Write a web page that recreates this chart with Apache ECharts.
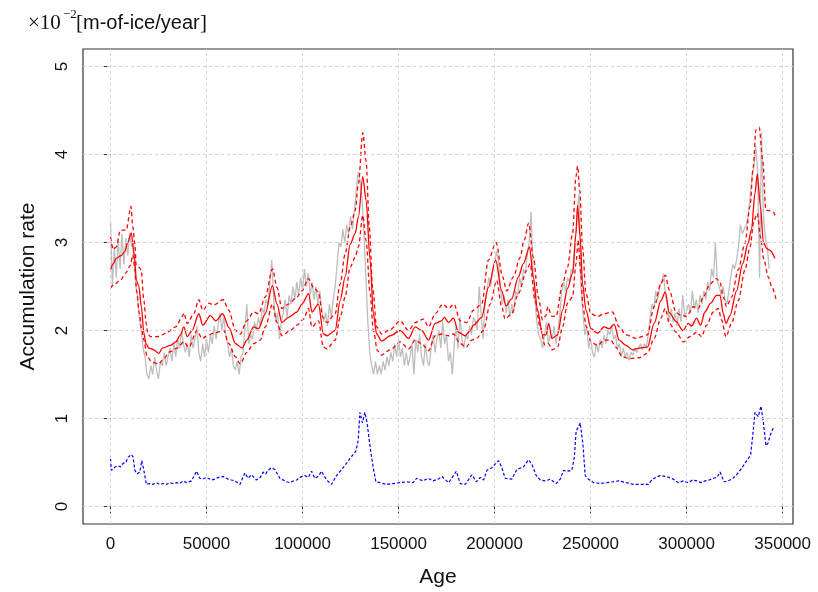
<!DOCTYPE html>
<html><head><meta charset="utf-8">
<script src="https://cdn.jsdelivr.net/npm/echarts@6/dist/echarts.min.js"></script>
<style>html,body{margin:0;padding:0;background:#fff}#c{width:818px;height:592px}</style>
</head><body><div id="c"></div>
<script>
// ---- data ----
const xTicks = [0, 50000, 100000, 150000, 200000, 250000, 300000, 350000];
const yTicks = [0, 1, 2, 3, 4, 5];
const xTitle = 'Age';
const yTitle = 'Accumulation rate';
const unitParts = ['×10', '−2', '[', 'm-of-ice/year', ']'];

// observed accumulation rate (grey), one value per 1000 years from age 0
const grayStartAge = 0, grayStepAge = 1000;
const grayRate = [
 3.25,2.5,2.95,2.6,3.05,2.7,3.1,2.75,3.05,2.85,
 3.1,2.95,3.0,2.55,2.4,2.15,2.0,1.8,1.7,1.5,
 1.45,1.6,1.5,1.7,1.55,1.45,1.65,1.6,1.75,1.6,
 1.7,1.8,1.65,1.85,1.7,1.9,1.8,2.0,1.85,1.75,
 1.85,1.7,1.95,1.8,1.9,2.05,1.75,1.65,1.85,1.7,
 1.9,1.75,1.95,1.85,2.05,1.9,2.05,2.2,2.0,2.15,
 1.95,1.85,1.7,1.8,1.6,1.55,1.65,1.5,1.7,1.75,
 1.75,2.3,1.85,1.95,1.9,2.1,2.0,2.15,2.05,2.25,
 2.2,2.35,2.3,2.55,2.8,2.35,2.1,2.2,1.9,2.1,
 2.2,2.35,2.15,2.4,2.3,2.5,2.35,2.55,2.4,2.6,
 2.45,2.7,2.5,2.65,2.4,2.55,2.35,2.5,2.3,2.45,
 2.25,2.1,2.2,2.05,2.3,2.15,2.35,2.5,2.75,3.0,
 2.95,3.15,3.0,3.2,3.1,3.3,3.15,3.35,3.6,3.8,
 3.7,3.5,3.1,2.6,2.1,1.75,1.6,1.5,1.65,1.5,
 1.6,1.5,1.65,1.55,1.7,1.6,1.75,1.65,1.85,1.7,
 1.9,1.7,1.8,1.6,1.75,1.6,1.7,1.85,1.5,1.9,
 1.75,1.95,1.7,1.6,1.85,1.65,1.6,1.8,1.95,1.75,
 1.9,2.0,1.8,2.1,1.85,1.95,1.65,1.75,1.5,1.85,
 2.05,1.8,2.15,1.9,1.8,1.95,1.9,2.05,1.95,2.15,
 2.1,2.0,2.5,2.2,1.9,2.3,2.45,2.6,2.5,2.7,
 2.75,2.9,2.8,2.5,2.3,2.4,2.2,2.35,2.15,2.3,
 2.2,2.45,2.4,2.6,2.5,2.7,2.65,2.85,3.0,3.35,
 2.7,2.35,2.1,1.95,1.9,1.8,1.95,2.1,1.85,1.95,
 1.9,2.05,1.85,2.0,2.2,2.45,2.55,2.45,2.6,2.55,
 2.7,2.65,3.0,3.35,3.55,2.5,2.2,1.95,2.05,1.8,
 1.9,1.75,1.7,1.85,1.75,1.9,1.8,1.95,1.85,2.0,
 1.95,2.05,1.9,1.95,1.8,1.85,1.7,1.8,1.7,1.75,
 1.66,1.75,1.72,1.8,1.75,1.8,1.85,1.78,1.85,1.8,
 1.95,2.15,2.3,2.25,2.45,2.35,2.5,2.55,2.65,2.4,
 2.3,2.1,2.25,2.1,2.2,2.05,2.25,2.1,2.4,2.15,
 2.15,2.3,2.2,2.45,2.25,2.35,2.2,2.4,2.3,2.45,
 2.35,2.55,2.45,2.7,2.6,3.0,2.55,2.5,2.4,2.5,
 2.35,2.3,2.45,2.6,2.75,2.7,2.8,2.95,3.2,3.1,
 3.15,3.2,3.3,3.5,3.75,3.85,4.1,3.8,2.6,4.25,
 3.3,3.05,2.95,2.7
];

// smoothed mean (red solid): [age, rate]
const meanCurve = [
 [0,2.69],[1500,2.76],[3000,2.82],[5500,2.85],[7500,2.9],[9000,3.0],[10800,3.11],[12500,2.84],[13500,2.57],[14800,2.5],
 [16100,2.27],[17400,1.97],[18500,1.85],[20000,1.80],[22600,1.78],[25200,1.74],[27000,1.80],[31200,1.83],[34000,1.87],[36500,1.95],
 [38200,2.04],[40000,1.93],[42500,2.0],[46000,2.19],[48100,2.06],[52000,2.17],[54800,2.11],[58400,2.19],[61800,2.03],[65100,1.85],
 [68600,1.80],[71000,1.89],[74500,2.04],[77100,2.02],[80600,2.19],[84300,2.51],[86700,2.30],[89300,2.09],[92700,2.15],[97100,2.21],
 [99700,2.30],[103200,2.42],[104900,2.21],[108300,2.30],[110900,1.96],[112700,1.94],[117000,2.0],[119600,2.34],[122200,2.61],[124800,2.98],
 [127400,3.10],[129100,3.29],[131400,3.75],[133100,3.48],[135200,2.80],[136900,2.19],[138600,1.96],[141200,1.88],[145700,1.94],[150900,2.0],
 [155200,1.91],[158700,2.04],[162100,2.0],[165600,1.89],[169100,2.08],[172500,2.11],[173900,2.15],[176000,2.09],[178600,2.14],[181200,1.98],
 [184700,1.94],[187300,2.0],[189000,2.06],[193300,2.15],[196800,2.49],[200600,2.80],[203700,2.45],[206000,2.28],[208900,2.36],[212400,2.61],
 [215000,2.76],[218200,2.95],[220200,2.6],[222400,2.23],[225000,1.95],[226800,1.95],[228200,2.08],[229900,1.91],[232800,1.95],[235400,2.23],
 [238000,2.48],[240600,2.65],[242400,3.10],[243200,3.42],[244600,3.06],[245800,2.53],[247600,2.23],[250200,2.02],[253600,1.97],[257100,2.04],
 [259700,2.02],[262300,2.07],[264900,1.89],[268400,1.83],[271900,1.78],[275300,1.80],[279600,1.81],[283100,2.08],[286600,2.34],[288900,2.44],
 [291000,2.20],[294600,2.10],[298000,2.0],[300900,2.08],[302600,2.05],[305200,2.14],[307300,2.06],[309500,2.21],[312500,2.31],[315600,2.40],
 [317400,2.40],[319100,2.19],[320500,2.08],[322600,2.17],[326000,2.45],[329200,2.76],[332000,2.99],[333800,3.15],[335600,3.56],[336800,3.78],
 [338400,3.42],[340000,3.0],[341700,2.93],[343400,2.91],[346000,2.82]
];

// upper band (red dashed): [age, rate]
const upperBand = [
 [0,3.06],[1500,2.92],[3000,2.95],[5200,3.14],[8200,3.14],[10700,3.41],[11600,3.18],[12700,2.99],[13400,2.74],[14800,2.72],
 [16000,2.69],[17400,2.34],[18600,2.08],[19400,1.97],[20800,1.93],[24300,1.93],[26900,1.95],[29500,1.98],[33900,2.04],[37500,2.16],
 [38200,2.2],[40000,2.08],[43400,2.19],[46000,2.35],[48100,2.23],[51200,2.31],[53800,2.29],[58700,2.35],[61600,2.23],[65100,2.0],
 [67600,1.96],[71000,2.11],[74500,2.21],[77100,2.19],[80600,2.38],[84400,2.70],[86700,2.49],[89300,2.25],[92700,2.30],[97100,2.38],
 [99700,2.45],[103100,2.59],[105700,2.49],[108300,2.44],[110600,2.15],[112700,2.09],[117000,2.19],[119600,2.53],[122200,2.87],[124800,3.17],
 [127400,3.36],[129100,3.67],[131400,4.25],[133100,3.93],[134800,3.17],[136500,2.49],[138600,2.04],[141200,1.96],[145600,2.01],[150900,2.11],
 [155200,2.0],[158700,2.09],[163000,2.13],[165600,2.04],[169100,2.19],[173000,2.30],[176000,2.25],[178900,2.30],[182100,2.11],[185500,2.09],
 [189000,2.23],[193300,2.30],[196800,2.80],[200800,3.0],[204200,2.61],[206300,2.45],[209800,2.61],[213300,2.83],[215300,3.02],[217800,3.22],
 [220200,2.83],[222800,2.38],[225000,2.12],[226800,2.17],[227700,2.27],[229900,2.16],[232000,2.16],[235400,2.53],[238000,2.72],[240600,3.10],
 [242400,3.75],[243200,3.87],[244400,3.59],[245800,2.95],[247600,2.42],[250200,2.19],[253600,2.16],[257100,2.19],[261400,2.21],[264900,2.04],
 [268400,1.95],[273600,1.91],[279600,1.95],[283100,2.27],[286600,2.53],[288900,2.63],[291000,2.46],[294600,2.2],[297400,2.17],[300000,2.16],
 [303500,2.27],[306100,2.25],[308700,2.38],[312200,2.53],[315600,2.59],[317400,2.55],[319100,2.38],[320800,2.27],[323400,2.38],[326900,2.69],
 [330400,2.99],[333000,3.41],[334700,3.86],[336100,4.28],[337800,4.31],[339600,3.94],[341300,3.37],[343400,3.36],[345100,3.35],[346500,3.27]
];

// lower band (red dashed): [age, rate]
const lowerBand = [
 [0,2.48],[1700,2.52],[5200,2.57],[7800,2.65],[10400,2.74],[11600,2.86],[12700,2.7],[13600,2.45],[15000,2.2],[16300,2.0],
 [17400,1.89],[19100,1.70],[21700,1.64],[25200,1.62],[26900,1.66],[31200,1.76],[34700,1.80],[38200,1.87],[40800,1.81],[45100,2.0],
 [47700,1.91],[51200,1.95],[53800,1.97],[59000,2.0],[61600,1.85],[65100,1.70],[67600,1.62],[71000,1.75],[74500,1.85],[78000,1.89],
 [80600,2.04],[84400,2.30],[86700,2.09],[89300,1.94],[93600,2.0],[97100,2.06],[100500,2.13],[103100,2.25],[104900,2.04],[108300,2.11],
 [110900,1.81],[112700,1.79],[117000,1.89],[119600,2.15],[122200,2.38],[124800,2.72],[127400,2.83],[129100,2.95],[131400,3.31],[133100,3.02],
 [135200,2.42],[136900,2.0],[139000,1.77],[141200,1.72],[145600,1.78],[150900,1.87],[155200,1.79],[158700,1.89],[162100,1.85],[165600,1.77],
 [169100,1.94],[172500,1.96],[176000,1.94],[178600,1.96],[182100,1.85],[185200,1.81],[188100,1.89],[190700,1.91],[194200,2.0],[197700,2.30],
 [201100,2.57],[203700,2.27],[205500,2.13],[208900,2.19],[212400,2.42],[216700,2.68],[218500,2.76],[221100,2.34],[223700,2.04],[226300,1.83],
 [228000,1.85],[230100,1.78],[232800,1.81],[235400,2.04],[238000,2.31],[240600,2.38],[242400,2.76],[243500,3.03],[244900,2.65],[246000,2.27],
 [247800,2.04],[250200,1.87],[253600,1.83],[257100,1.89],[260600,1.89],[263100,1.81],[266600,1.70],[270100,1.68],[275300,1.69],[279600,1.74],
 [283100,1.91],[286600,2.14],[288900,2.25],[291000,2.08],[294600,1.98],[298300,1.87],[301700,1.93],[305200,1.98],[307800,1.93],[310400,2.06],
 [313900,2.21],[316500,2.25],[318200,2.12],[320500,1.93],[323400,2.08],[326900,2.34],[330400,2.69],[333000,2.95],[335100,3.25],[336800,3.33],
 [338500,3.06],[340300,2.80],[342500,2.61],[344300,2.50],[346500,2.36]
];

// spread (blue dashed): [age, rate]
const spreadCurve = [
 [0,0.54],[500,0.41],[1400,0.42],[2500,0.45],[4000,0.46],[5300,0.45],[6600,0.49],[8000,0.50],[9200,0.56],[10900,0.59],
 [11800,0.56],[12700,0.41],[13900,0.37],[15300,0.39],[16300,0.52],[17400,0.41],[18700,0.25],[20500,0.26],[22000,0.25],[24000,0.27],
 [25500,0.25],[27400,0.26],[29000,0.25],[30900,0.27],[32500,0.26],[34400,0.27],[36000,0.26],[37800,0.29],[39600,0.27],[42200,0.29],
 [44800,0.40],[46500,0.32],[48000,0.31],[50000,0.33],[52600,0.30],[54500,0.31],[56100,0.33],[58700,0.34],[61300,0.31],[63000,0.30],
 [64800,0.29],[67400,0.25],[70000,0.38],[71700,0.32],[73400,0.36],[76000,0.30],[78000,0.33],[79500,0.39],[80800,0.37],[82100,0.41],
 [83800,0.44],[85600,0.42],[88200,0.32],[91700,0.28],[93500,0.27],[95100,0.29],[97000,0.30],[98600,0.33],[101200,0.35],[103000,0.33],
 [104700,0.40],[106400,0.32],[108200,0.34],[109900,0.40],[112500,0.30],[115100,0.25],[117700,0.35],[121200,0.44],[124600,0.54],[127800,0.63],
 [129000,0.75],[129900,1.07],[131200,0.95],[132500,1.07],[133700,0.94],[135100,0.69],[136800,0.44],[138200,0.28],[140300,0.27],[143700,0.25],
 [147200,0.26],[150700,0.27],[154200,0.28],[157600,0.27],[159400,0.32],[162800,0.29],[165400,0.32],[168000,0.29],[170600,0.31],[172600,0.34],
 [176100,0.27],[180100,0.40],[182100,0.26],[184700,0.25],[188200,0.36],[190500,0.28],[192500,0.33],[194300,0.30],[196000,0.41],[198600,0.44],
 [200300,0.48],[202100,0.52],[203800,0.44],[205500,0.32],[209000,0.31],[211600,0.42],[215100,0.45],[217700,0.53],[219400,0.48],[221700,0.35],
 [223800,0.30],[226400,0.29],[229000,0.31],[232100,0.26],[234200,0.31],[235900,0.41],[237600,0.40],[240200,0.41],[241500,0.55],[242500,0.86],
 [243700,0.90],[244600,0.95],[246000,0.71],[247200,0.35],[248900,0.31],[251600,0.27],[255000,0.26],[258400,0.27],[261500,0.28],[264500,0.29],
 [268800,0.27],[272300,0.25],[276000,0.25],[280100,0.25],[281800,0.30],[284000,0.33],[286200,0.35],[289600,0.34],[293100,0.31],[295700,0.27],
 [298300,0.29],[300900,0.27],[303000,0.30],[305300,0.29],[307500,0.27],[309600,0.29],[311800,0.30],[313900,0.32],[315800,0.33],[317400,0.39],
 [319500,0.28],[321500,0.29],[323500,0.31],[325700,0.35],[327800,0.41],[329500,0.46],[331300,0.52],[333300,0.58],[334400,0.80],[335600,1.07],
 [337300,1.02],[338700,1.14],[339900,0.97],[341300,0.69],[342400,0.72],[343400,0.80],[345100,0.89],[346000,0.90]
];

// ---- chart ----
const sans = "'Liberation Sans', Arial, Helvetica, sans-serif";
const serif = "'Liberation Serif', 'Times New Roman', serif";
const chart = echarts.init(document.getElementById('c'), null, {renderer: 'canvas'});
const grayData = grayRate.map((v, i) => [grayStartAge + i * grayStepAge, v]);
const lineBase = {type: 'line', symbol: 'none', showSymbol: false, silent: true, animation: false};
const smoothed = {smooth: 0.3, smoothMonotone: 'x'};

chart.setOption({
  animation: false,
  backgroundColor: '#ffffff',
  grid: {left: 83, right: 25, top: 49, bottom: 68, show: true, borderColor: '#333333', borderWidth: 1.2,
         backgroundColor: 'transparent', containLabel: false, outerBoundsMode: 'none'},
  xAxis: {
    type: 'value', min: -14300, max: 355400,
    axisLine: {show: false},
    axisTick: {show: true, customValues: xTicks, length: 7, lineStyle: {color: '#333333', width: 1}},
    axisLabel: {customValues: xTicks, fontSize: 17, fontFamily: sans, color: '#111111', margin: 12,
                formatter: v => String(v)},
    splitLine: {show: false},
    name: xTitle, nameLocation: 'middle', nameGap: 43,
    nameTextStyle: {fontSize: 21, fontFamily: sans, color: '#111111'}
  },
  yAxis: {
    type: 'value', min: -0.2, max: 5.2,
    axisLine: {show: false},
    axisTick: {show: true, customValues: yTicks, length: 7, lineStyle: {color: '#333333', width: 1}},
    axisLabel: {customValues: yTicks, fontSize: 17, fontFamily: sans, color: '#111111', margin: 12, rotate: 90,
                formatter: v => String(v)},
    splitLine: {show: false},
    name: yTitle, nameLocation: 'middle', nameGap: 44,
    nameTextStyle: {fontSize: 21, fontFamily: sans, color: '#111111'}
  },
  graphic: [
    {type: 'text', left: 28, top: 13, style: {text: unitParts[0], font: '21px ' + serif, fill: '#111111'}},
    {type: 'text', left: 63, top: 8, style: {text: unitParts[1], font: '13px ' + serif, fill: '#111111'}},
    {type: 'text', left: 76, top: 13, style: {text: unitParts[2], font: '21px ' + serif, fill: '#111111'}},
    {type: 'text', left: 83, top: 13, style: {text: unitParts[3], font: '20px ' + sans, fill: '#111111'}},
    {type: 'text', left: 200, top: 13, style: {text: unitParts[4], font: '21px ' + serif, fill: '#111111'}}
  ],
  series: [
    Object.assign({}, lineBase, {
      name: 'grid', data: [], z: 1,
      markLine: {
        silent: true, animation: false, symbol: ['none', 'none'], label: {show: false},
        lineStyle: {color: '#d3d3d3', type: [3, 3], width: 1},
        data: xTicks.map(v => ({xAxis: v})).concat(yTicks.map(v => ({yAxis: v})))
      }
    }),
    Object.assign({}, lineBase, {name: 'observed', data: grayData, z: 2,
      lineStyle: {color: '#bebebe', width: 1.3}}),
    Object.assign({}, lineBase, smoothed, {name: 'upper', data: upperBand, z: 3,
      lineStyle: {color: '#ff0000', width: 1.3, type: [4, 3]}}),
    Object.assign({}, lineBase, smoothed, {name: 'lower', data: lowerBand, z: 3,
      lineStyle: {color: '#ff0000', width: 1.3, type: [4, 3]}}),
    Object.assign({}, lineBase, smoothed, {name: 'mean', data: meanCurve, z: 4,
      lineStyle: {color: '#ff0000', width: 1.3}}),
    Object.assign({}, lineBase, {name: 'spread', data: spreadCurve, z: 3,
      lineStyle: {color: '#0000ff', width: 1.2, type: [3, 2]}})
  ]
});
</script>
</body></html>
